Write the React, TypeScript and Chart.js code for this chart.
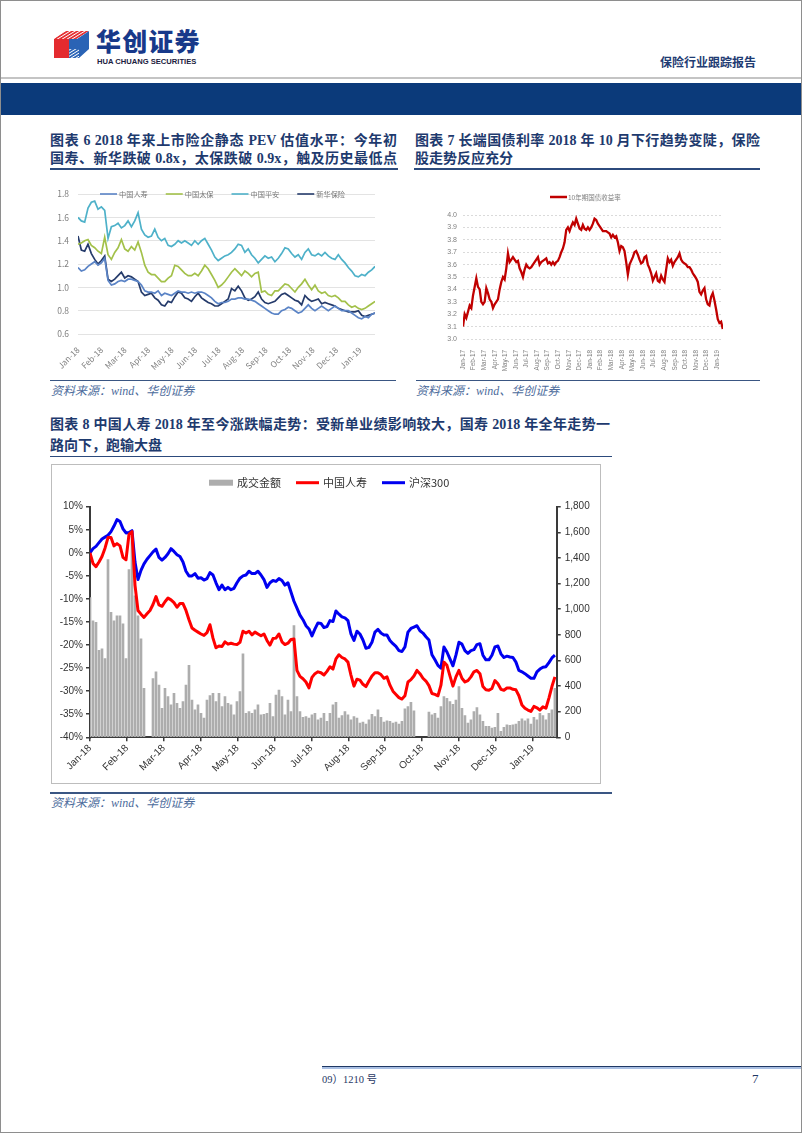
import React, { useEffect, useRef } from "react";
import { Chart, registerables } from "chart.js";

Chart.register(...registerables);

// ---------------- Chart 6: PEV valuation (2018-01 .. 2019-01) ----------------
const PEV_MONTHS = ["Jan-18", "Feb-18", "Mar-18", "Apr-18", "May-18", "Jun-18", "Jul-18", "Aug-18", "Sep-18", "Oct-18", "Nov-18", "Dec-18", "Jan-19"];
const PEV_STEP = 10 / 70.4; // months between samples
const PEV_LIFE = [
  1.17, 1.14, 1.15, 1.18, 1.20, 1.22, 1.19, 1.21, 1.25, 1.06,
  1.02, 1.03, 1.05, 1.06, 1.05, 1.07, 1.07, 1.06, 1.05, 1.02,
  0.97, 0.96, 0.96, 0.95, 0.97, 0.93, 0.95, 0.94, 0.93, 0.95,
  0.97, 0.96, 0.96, 0.95, 0.96, 0.95, 0.96, 0.96, 0.95, 0.93,
  0.91, 0.88, 0.86, 0.87, 0.87, 0.88, 0.90, 0.90, 0.91, 0.91,
  0.90, 0.90, 0.89, 0.88, 0.86, 0.84, 0.82, 0.80, 0.78, 0.77,
  0.77, 0.80, 0.81, 0.83, 0.82, 0.80, 0.78, 0.79, 0.82, 0.85,
  0.82, 0.80, 0.82, 0.84, 0.82, 0.80, 0.82, 0.84, 0.82, 0.80,
  0.80, 0.80, 0.78, 0.76, 0.74, 0.73, 0.75, 0.74, 0.77, 0.78,
];
const PEV_CPIC = [
  1.37, 1.38, 1.40, 1.41, 1.36, 1.34, 1.31, 1.29, 1.43, 1.28,
  1.24, 1.30, 1.34, 1.41, 1.33, 1.31, 1.35, 1.32, 1.39, 1.30,
  1.19, 1.13, 1.11, 1.11, 1.08, 1.05, 1.05, 1.08, 1.10, 1.19,
  1.18, 1.15, 1.12, 1.10, 1.10, 1.12, 1.10, 1.14, 1.19, 1.16,
  1.11, 1.06, 1.00, 1.02, 1.05, 1.09, 1.13, 1.16, 1.13, 1.10,
  1.14, 1.12, 1.09, 1.12, 1.13, 0.96, 0.97, 0.94, 0.93, 0.97,
  0.97, 1.00, 1.03, 1.02, 0.99, 0.96, 1.00, 1.03, 1.07, 1.02,
  0.98, 1.02, 0.97, 0.95, 0.96, 0.93, 0.92, 0.93, 0.91, 0.88,
  0.88, 0.85, 0.83, 0.84, 0.82, 0.81, 0.82, 0.84, 0.86, 0.88,
];
const PEV_PINGAN = [
  1.60, 1.57, 1.56, 1.68, 1.73, 1.74, 1.67, 1.69, 1.66, 1.42,
  1.52, 1.53, 1.55, 1.51, 1.53, 1.57, 1.52, 1.57, 1.64, 1.50,
  1.45, 1.43, 1.44, 1.50, 1.43, 1.40, 1.42, 1.36, 1.35, 1.37,
  1.40, 1.38, 1.40, 1.38, 1.36, 1.40, 1.37, 1.40, 1.42, 1.37,
  1.32, 1.26, 1.23, 1.25, 1.27, 1.28, 1.30, 1.33, 1.37, 1.36,
  1.30, 1.33, 1.28, 1.25, 1.21, 1.24, 1.27, 1.25, 1.26, 1.22,
  1.25, 1.29, 1.34, 1.33, 1.29, 1.26, 1.28, 1.24, 1.30, 1.33,
  1.28, 1.27, 1.29, 1.27, 1.30, 1.27, 1.25, 1.24, 1.28, 1.24,
  1.21, 1.17, 1.14, 1.10, 1.09, 1.11, 1.10, 1.13, 1.15, 1.18,
];
const PEV_NCI = [
  1.44, 1.32, 1.31, 1.37, 1.29, 1.24, 1.20, 1.23, 1.27, 1.07,
  1.05, 1.07, 1.10, 1.13, 1.08, 1.10, 1.09, 1.07, 1.05, 0.96,
  0.93, 0.94, 0.95, 0.91, 0.89, 0.85, 0.84, 0.88, 0.87, 0.92,
  0.96, 0.95, 0.91, 0.90, 0.88, 0.92, 0.95, 0.91, 0.89, 0.87,
  0.86, 0.84, 0.84, 0.86, 0.88, 0.90, 0.99, 0.97, 1.01, 0.97,
  0.91, 0.89, 0.90, 0.92, 0.96, 0.90, 0.87, 0.86, 0.87, 0.88,
  0.91, 0.94, 0.95, 0.93, 0.91, 0.89, 0.88, 0.85, 0.93, 0.90,
  0.88, 0.89, 0.90, 0.86, 0.87, 0.86, 0.85, 0.84, 0.82, 0.81,
  0.80, 0.79, 0.79, 0.79, 0.80, 0.76, 0.75, 0.76, 0.77, 0.78,
];

// ---------------- Chart 7: 10Y government bond yield (2017-01 .. 2019-01) ----------------
const BOND_MONTHS = [
  "Jan-17", "Feb-17", "Mar-17", "Apr-17", "May-17", "Jun-17", "Jul-17", "Aug-17", "Sep-17", "Oct-17", "Nov-17", "Dec-17",
  "Jan-18", "Feb-18", "Mar-18", "Apr-18", "May-18", "Jun-18", "Jul-18", "Aug-18", "Sep-18", "Oct-18", "Nov-18", "Dec-18", "Jan-19",
];
const BOND_STEP = 5 / 31.8;
const BOND_YIELD = [
  3.10, 3.20, 3.17, 3.22, 3.27, 3.25, 3.35, 3.42, 3.49, 3.42,
  3.40, 3.30, 3.28, 3.30, 3.41, 3.37, 3.32, 3.30, 3.25, 3.28,
  3.30, 3.32, 3.40, 3.46, 3.50, 3.48, 3.57, 3.69, 3.62, 3.64,
  3.66, 3.64, 3.62, 3.63, 3.57, 3.54, 3.50, 3.56, 3.60, 3.58,
  3.57, 3.58, 3.60, 3.62, 3.64, 3.66, 3.60, 3.62, 3.63, 3.64,
  3.65, 3.61, 3.62, 3.60, 3.62, 3.60, 3.62, 3.63, 3.66, 3.70,
  3.73, 3.78, 3.88, 3.90, 3.87, 3.91, 3.94, 3.92, 3.97, 3.93,
  3.89, 3.88, 3.92, 3.89, 3.88, 3.90, 3.88, 3.90, 3.93, 3.97,
  3.96, 3.93, 3.91, 3.89, 3.87, 3.87, 3.87, 3.86, 3.85, 3.82,
  3.84, 3.82, 3.83, 3.78, 3.71, 3.75, 3.74, 3.71, 3.62, 3.52,
  3.60, 3.63, 3.66, 3.70, 3.71, 3.68, 3.64, 3.61, 3.62, 3.66,
  3.67, 3.60, 3.57, 3.53, 3.47, 3.50, 3.53, 3.47, 3.46, 3.51,
  3.48, 3.46, 3.56, 3.65, 3.62, 3.64, 3.59, 3.62, 3.64, 3.66,
  3.69, 3.64, 3.62, 3.61, 3.60, 3.58, 3.58, 3.56, 3.53, 3.51,
  3.49, 3.46, 3.38, 3.36, 3.39, 3.41, 3.32, 3.28, 3.27, 3.34,
  3.37, 3.31, 3.24, 3.16, 3.13, 3.14, 3.08,
];

// ---------------- Chart 8: China Life vs CSI300 since 2018 ----------------
const PERF_MONTHS = PEV_MONTHS;
const PERF_STEP = 3 / 36.9;
const PERF_HS300 = [
  0, 0.9, 1.4, 2.2, 3.0, 3.4, 3.8, 4.6, 5.8, 7.2,
  6.8, 5.2, 4.3, 4.4, 4.8, -2.0, -5.8, -3.8, -2.4, -1.4,
  -0.6, 0.2, 0.8, -1.0, -1.6, -1.0, -0.2, 0.9, 0.3, -0.4,
  -0.8, -2.0, -4.0, -5.0, -5.0, -4.5, -5.5, -5.4, -5.9, -5.6,
  -4.3, -4.8, -6.5, -8.0, -7.0, -8.0, -7.5, -8.0, -7.7, -6.5,
  -5.5, -5.0, -4.8, -4.0, -4.5, -4.5, -4.0, -4.8, -5.8, -7.5,
  -6.5, -6.0, -6.2, -5.6, -6.0, -7.0, -6.5, -8.5, -10.5, -12.0,
  -13.5, -14.5, -15.8, -16.5, -18.0, -16.5, -15.2, -15.3, -16.2, -16.0,
  -14.7, -14.9, -12.6, -13.3, -13.9, -14.1, -14.7, -17.6, -19.0, -17.0,
  -17.6, -18.9, -20.7, -20.5, -19.4, -17.2, -16.6, -17.4, -17.8, -17.8,
  -19.0, -19.7, -20.3, -21.2, -21.4, -20.4, -17.2, -16.4, -16.1, -15.8,
  -16.9, -17.4, -18.2, -18.9, -22.1, -23.2, -24.4, -25.0, -20.4, -21.5,
  -23.0, -24.5, -22.2, -19.4, -19.8, -21.2, -21.8, -21.2, -21.0, -19.9,
  -19.7, -22.2, -23.2, -23.2, -22.2, -20.4, -20.2, -21.9, -22.7, -22.4,
  -22.6, -22.7, -23.7, -25.5, -25.8, -26.2, -26.7, -27.2, -27.2, -25.8,
  -25.2, -24.8, -24.7, -23.8, -22.8, -22.2,
];
const PERF_LIFE = [
  0, -2.3, -3.0, -2.0, -0.8, 1.0, 3.3, 3.3, 1.5, 2.0,
  1.5, -1.0, -1.5, 4.0, 4.6, -7.0, -12.5, -13.3, -14.0, -13.2,
  -12.5, -11.2, -9.5, -11.3, -11.6, -10.6, -9.8, -10.2, -10.8, -11.8,
  -11.0, -11.0, -12.5, -14.5, -16.3, -16.8, -17.2, -17.6, -17.9, -17.3,
  -15.6, -18.5, -20.6, -20.2, -20.3, -19.3, -19.8, -19.6, -19.8, -19.9,
  -19.4, -17.0, -17.4, -17.0, -17.8, -17.2, -17.6, -18.0, -17.6, -19.0,
  -20.0, -18.6, -18.5, -17.6, -19.3, -19.9, -19.6, -18.8, -18.7, -25.5,
  -26.8, -27.3, -28.0, -29.3, -27.0, -26.2, -25.8, -26.0, -26.5, -25.7,
  -24.7, -25.2, -23.0, -22.1, -22.7, -23.0, -23.7, -26.5, -28.9, -27.4,
  -27.6, -28.5, -29.0, -27.8, -26.7, -26.0, -26.0, -26.4, -27.2, -26.9,
  -28.7, -30.0, -30.7, -31.4, -31.7, -31.0, -28.0, -27.5, -26.7, -25.5,
  -26.2, -27.2, -27.8, -28.8, -30.5, -30.7, -31.0, -28.7, -23.7, -24.4,
  -26.7, -28.9, -26.9, -25.5, -27.2, -28.0, -27.7, -26.9, -25.8, -25.5,
  -26.2, -29.0, -29.7, -29.8, -29.4, -27.7, -28.4, -29.6, -29.8, -29.3,
  -29.3, -29.6, -29.7, -31.0, -33.0, -33.7, -34.1, -34.4, -33.3, -33.6,
  -34.1, -33.4, -33.7, -31.5, -29.0, -26.9,
];
const PERF_VOLUME: (number | null)[] = [
  1090, 910, 897, 678, 691, 614, 1387, 975, 910, 949,
  949, 885, 614, 1310, 1568, 1104, 949, 768, 382, null,
  null, 459, 511, 407, 227, 382, 317, 253, 343, 266,
  227, 279, 407, 562, 291, 214, 253, 188, 150, 291,
  325, 343, 279, 343, 240, 317, 266, 253, 175, 279,
  356, 652, 188, 201, 188, 214, 253, 175, 180, 188,
  266, 162, 330, 369, 317, 175, 291, 201, 872, 317,
  201, 155, 162, 150, 175, 188, 137, 150, 188, 124,
  188, 253, 273, 150, 170, 201, 175, 137, 162, 150,
  111, 119, 103, 137, 180, 162, 214, 155, 119, 129,
  124, 111, 119, 103, 124, 222, 240, 273, 206, null,
  null, null, null, 196, 175, 188, 150, 240, 317, 304,
  279, 258, 291, 395, 227, 170, 111, 137, 201, 232,
  175, 124, 85, 85, 72, 77, 188, 46, 77, 98,
  93, 98, 103, 124, 144, 129, 144, 103, 155, 137,
  188, 170, 137, 188, 214, 382,
];

// ---------------- helpers ----------------
const SANS = '"Liberation Sans", "Noto Sans CJK SC", sans-serif';
const CJK = '"Noto Sans CJK SC", "Liberation Sans", sans-serif';
const SERIF = '"Liberation Serif", "Noto Sans CJK SC", serif';

const toXY = (arr: (number | null)[], step: number) => arr.map((v, i) => ({ x: i * step, y: v }));

const lineLegend = {
  id: "lineLegend",
  afterDraw(chart: any, _args: any, o: any) {
    if (!o || o.x === undefined) return;
    const ctx = chart.ctx;
    ctx.save();
    ctx.font = o.font;
    ctx.textBaseline = "middle";
    let x = o.x;
    const y = o.y;
    chart.data.datasets.forEach((ds: any) => {
      const isBar = ds.type === "bar";
      if (isBar) {
        ctx.fillStyle = ds.backgroundColor;
        ctx.fillRect(x, y - o.boxH / 2, o.boxW, o.boxH);
        x += o.boxW + o.textGap;
      } else {
        ctx.strokeStyle = ds.borderColor;
        ctx.lineWidth = o.lineW;
        ctx.beginPath();
        ctx.moveTo(x, y);
        ctx.lineTo(x + o.sampleW, y);
        ctx.stroke();
        x += o.sampleW + o.textGap;
      }
      ctx.fillStyle = o.color;
      ctx.fillText(ds.label, x, y + 0.5);
      x += ctx.measureText(ds.label).width + o.itemGap;
    });
    ctx.restore();
  },
};

function monthTicks(labels: string[]) {
  return (scale: any) => {
    scale.ticks = labels.map((_, i) => ({ value: i }));
  };
}

function ChartCanvas({ left, top, width, height, makeConfig }: any) {
  const ref = useRef<HTMLCanvasElement>(null);
  useEffect(() => {
    const chart = new Chart(ref.current as HTMLCanvasElement, makeConfig());
    return () => chart.destroy();
  }, []);
  return (
    <canvas
      ref={ref}
      width={width}
      height={height}
      style={{ position: "absolute", left, top, width, height }}
    />
  );
}

function pevConfig(): any {
  const mk = (label: string, data: number[], color: string) => ({
    label,
    data: toXY(data, PEV_STEP),
    borderColor: color,
    backgroundColor: color,
    borderWidth: 1.7,
    pointRadius: 0,
    tension: 0,
  });
  return {
    type: "line",
    data: {
      datasets: [
        mk("中国人寿", PEV_LIFE, "#5b84c6"),
        mk("中国太保", PEV_CPIC, "#a3c14a"),
        mk("中国平安", PEV_PINGAN, "#4eb1c9"),
        mk("新华保险", PEV_NCI, "#253b6b"),
      ],
    },
    options: {
      responsive: false,
      animation: false,
      events: [],
      layout: { padding: { top: 10, right: 25, left: 0, bottom: 0 } },
      plugins: {
        legend: { display: false },
        tooltip: { enabled: false },
        lineLegend: {
          x: 50, y: 14, font: `7.2px ${CJK}`, color: "#777777",
          sampleW: 17, lineW: 1.6, textGap: 2, itemGap: 18, boxW: 0, boxH: 0,
        },
      },
      scales: {
        x: {
          type: "linear",
          min: 0,
          max: 12.64,
          grid: { display: false },
          border: { display: false },
          afterBuildTicks: monthTicks(PEV_MONTHS),
          afterFit: (s: any) => { s.height = 41; },
          ticks: {
            autoSkip: false,
            minRotation: 45,
            maxRotation: 45,
            padding: 3,
            color: "#808080",
            font: { family: CJK, size: 8.3 },
            callback: (_v: any, i: number) => PEV_MONTHS[i],
          },
        },
        y: {
          min: 0.6,
          max: 1.8,
          grid: { color: "#e3e3e3", drawTicks: false },
          border: { display: false },
          afterFit: (s: any) => { s.width = 28; },
          ticks: {
            stepSize: 0.2,
            padding: 9,
            color: "#808080",
            font: { family: CJK, size: 8.5 },
            callback: (v: any) => Number(v).toFixed(1),
          },
        },
      },
    },
    plugins: [lineLegend],
  };
}

function bondConfig(): any {
  return {
    type: "line",
    data: {
      datasets: [
        {
          label: "10年期国债收益率",
          data: toXY(BOND_YIELD, BOND_STEP),
          borderColor: "#c00000",
          backgroundColor: "#c00000",
          borderWidth: 2.3,
          pointRadius: 0,
          tension: 0,
        },
      ],
    },
    options: {
      responsive: false,
      animation: false,
      events: [],
      layout: { padding: { top: 35, right: 22, left: 0, bottom: 0 } },
      plugins: {
        legend: { display: false },
        tooltip: { enabled: false },
        lineLegend: {
          x: 135, y: 17, font: `6.5px ${CJK}`, color: "#7f7f7f",
          sampleW: 17, lineW: 2.5, textGap: 1, itemGap: 10, boxW: 0, boxH: 0,
        },
      },
      scales: {
        x: {
          type: "linear",
          min: 0,
          max: 24.55,
          grid: { display: false },
          border: { display: false },
          afterBuildTicks: monthTicks(BOND_MONTHS),
          afterFit: (s: any) => { s.height = 36; },
          ticks: {
            autoSkip: false,
            minRotation: 90,
            maxRotation: 90,
            padding: 3,
            color: "#808080",
            font: { family: SANS, size: 6.4 },
            callback: (_v: any, i: number) => BOND_MONTHS[i],
          },
        },
        y: {
          min: 3.0,
          max: 4.0,
          grid: { color: "#dadada", drawTicks: false },
          border: { display: false, dash: [2, 2] },
          afterFit: (s: any) => { s.width = 48; },
          ticks: {
            stepSize: 0.1,
            padding: 6,
            color: "#808080",
            font: { family: SANS, size: 7 },
            callback: (v: any) => Number(v).toFixed(1),
          },
        },
      },
    },
    plugins: [lineLegend],
  };
}

function perfConfig(): any {
  const axisColor = "#3a3a3a";
  const tickFont = { family: SANS, size: 10 };
  return {
    type: "bar",
    data: {
      datasets: [
        {
          type: "bar",
          label: "成交金额",
          data: toXY(PERF_VOLUME, PERF_STEP),
          backgroundColor: "#adadad",
          barThickness: 2,
          yAxisID: "y1",
          order: 3,
        },
        {
          type: "line",
          label: "中国人寿",
          data: toXY(PERF_LIFE, PERF_STEP),
          borderColor: "#ff0000",
          backgroundColor: "#ff0000",
          borderWidth: 3,
          pointRadius: 0,
          tension: 0,
          borderJoinStyle: "round",
          yAxisID: "y",
          order: 1,
        },
        {
          type: "line",
          label: "沪深300",
          data: toXY(PERF_HS300, PERF_STEP),
          borderColor: "#0000f0",
          backgroundColor: "#0000f0",
          borderWidth: 3,
          pointRadius: 0,
          tension: 0,
          borderJoinStyle: "round",
          yAxisID: "y",
          order: 2,
        },
      ],
    },
    options: {
      responsive: false,
      animation: false,
      events: [],
      layout: { padding: { top: 41.7, right: 0, left: 0, bottom: 0 } },
      plugins: {
        legend: { display: false },
        tooltip: { enabled: false },
        lineLegend: {
          x: 157, y: 17.7, font: `11px ${CJK}`, color: "#333333",
          sampleW: 23, lineW: 3, textGap: 4, itemGap: 15, boxW: 24, boxH: 6,
        },
      },
      scales: {
        x: {
          type: "linear",
          min: 0,
          max: 12.65,
          offset: false,
          grid: { display: true, drawOnChartArea: false, offset: false, color: axisColor, tickLength: 4, lineWidth: 1.5 },
          border: { display: true, color: axisColor, width: 2 },
          afterBuildTicks: monthTicks(PERF_MONTHS),
          afterFit: (s: any) => { s.height = 45.7; },
          ticks: {
            autoSkip: false,
            minRotation: 45,
            maxRotation: 45,
            padding: 1,
            color: "#333333",
            font: tickFont,
            callback: (_v: any, i: number) => PERF_MONTHS[i],
          },
        },
        y: {
          position: "left",
          min: -40,
          max: 10,
          grid: { display: true, drawOnChartArea: false, color: axisColor, tickLength: 4, lineWidth: 1.5 },
          border: { display: true, color: axisColor, width: 2 },
          afterFit: (s: any) => { s.width = 38; },
          ticks: {
            stepSize: 5,
            padding: 3,
            color: "#333333",
            font: tickFont,
            callback: (v: any) => `${v}%`,
          },
        },
        y1: {
          position: "right",
          min: 0,
          max: 1800,
          grid: { display: true, drawOnChartArea: false, color: axisColor, tickLength: 4, lineWidth: 1.5 },
          border: { display: true, color: axisColor, width: 2 },
          afterFit: (s: any) => { s.width = 43.3; },
          ticks: {
            stepSize: 200,
            padding: 4,
            color: "#333333",
            font: tickFont,
            callback: (v: any) => Number(v).toLocaleString("en-US"),
          },
        },
      },
    },
    plugins: [lineLegend],
  };
}

// ---------------- page ----------------
const TITLE_COLOR = "#1e3a6e";
const abs = (left: number, top: number, extra: any = {}) => ({ position: "absolute" as const, left, top, ...extra });

function TitleBlock({ left, top, width, lines, lineHeight }: any) {
  return (
    <div style={abs(left, top, { width, fontFamily: SERIF, fontWeight: 700, fontSize: 14, lineHeight: `${lineHeight}px`, color: TITLE_COLOR })}>
      {lines.map((l: any, i: number) => (
        <div key={i} style={{ textAlign: l.justify ? "justify" : "left", textAlignLast: l.justify ? "justify" : "left", whiteSpace: "normal" } as any}>
          {l.text}
        </div>
      ))}
    </div>
  );
}

function Source({ left, top }: any) {
  return (
    <div style={abs(left, top, { fontFamily: SERIF, fontStyle: "italic", fontSize: 12, lineHeight: "15px", color: "#4d6c9c", whiteSpace: "nowrap" })}>
      资料来源：wind、华创证券
    </div>
  );
}

function Logo() {
  return (
    <svg width="37" height="30" viewBox="0 0 37 30" style={abs(53, 29)}>
      <defs>
        <pattern id="stripeR" width="2.6" height="2.6" patternUnits="userSpaceOnUse" patternTransform="rotate(-32)">
          <rect width="2.6" height="2.6" fill="#e42b2f" />
          <rect width="2.6" height="0.9" fill="#ffffff" />
        </pattern>
        <pattern id="stripeB" width="2.6" height="2.6" patternUnits="userSpaceOnUse" patternTransform="rotate(-32)">
          <rect width="2.6" height="2.6" fill="#2a63b5" />
          <rect width="2.6" height="0.9" fill="#ffffff" />
        </pattern>
      </defs>
      <polygon points="1,10 12,2 36,2 24,10" fill="url(#stripeR)" />
      <polygon points="1,10 16,10 16,29 1,29" fill="#e42b2f" />
      <polygon points="16,10 24,10 36,2 36,20 26,29 16,29" fill="#2a63b5" />
      <polygon points="16,20 26,20 26,29 16,29" fill="url(#stripeB)" />
    </svg>
  );
}

export default function App() {
  return (
    <div style={abs(0, 0, { width: 802, height: 1133, background: "#ffffff", overflow: "hidden" })}>
      {/* header */}
      <Logo />
      <div style={abs(96, 28, { fontFamily: CJK, fontWeight: 900, fontSize: 25, lineHeight: "25px", letterSpacing: 1.2, color: "#17398a", whiteSpace: "nowrap" })}>
        华创证券
      </div>
      <div style={abs(97, 57, { fontFamily: SANS, fontWeight: 700, fontSize: 7.6, lineHeight: "9px", color: "#1b2140", whiteSpace: "nowrap" })}>
        HUA CHUANG SECURITIES
      </div>
      <div style={abs(660, 56, { fontFamily: SERIF, fontWeight: 700, fontSize: 12, lineHeight: "14px", color: "#1f3c73", whiteSpace: "nowrap" })}>
        保险行业跟踪报告
      </div>
      <div style={abs(0, 77, { width: 802, height: 2, background: "#c4c4c4" })} />
      <div style={abs(0, 83, { width: 802, height: 32, background: "#0b3a7a" })} />

      {/* titles of charts 6 & 7 */}
      <TitleBlock
        left={50}
        top={132}
        width={347}
        lineHeight={18}
        lines={[
          { text: "图表 6 2018 年来上市险企静态 PEV 估值水平：今年初", justify: true },
          { text: "国寿、新华跌破 0.8x，太保跌破 0.9x，触及历史最低点", justify: true },
        ]}
      />
      <TitleBlock
        left={415}
        top={132}
        width={345}
        lineHeight={18}
        lines={[
          { text: "图表 7 长端国债利率 2018 年 10 月下行趋势变陡，保险", justify: true },
          { text: "股走势反应充分", justify: false },
        ]}
      />
      <div style={abs(50, 168, { width: 348, height: 1.5, background: "#2c4a7c" })} />
      <div style={abs(414, 168, { width: 346, height: 1.5, background: "#2c4a7c" })} />

      <ChartCanvas left={50} top={180} width={350} height={195} makeConfig={pevConfig} />
      <ChartCanvas left={415} top={180} width={330} height={195} makeConfig={bondConfig} />

      <div style={abs(50, 379.5, { width: 346, height: 1.5, background: "#3a5683" })} />
      <div style={abs(416, 379.5, { width: 344, height: 1.5, background: "#3a5683" })} />
      <Source left={51} top={384} />
      <Source left={416} top={384} />

      {/* chart 8 */}
      <TitleBlock
        left={50}
        top={415}
        width={560}
        lineHeight={20.5}
        lines={[
          { text: "图表 8 中国人寿 2018 年至今涨跌幅走势：受新单业绩影响较大，国寿 2018 年全年走势一", justify: true },
          { text: "路向下，跑输大盘", justify: false },
        ]}
      />
      <div style={abs(50, 455.5, { width: 562, height: 1.5, background: "#2c4a7c" })} />
      <div style={abs(51, 464, { width: 550, height: 320, border: "1px solid #bdbdbd", boxSizing: "border-box" })} />
      <ChartCanvas left={52} top={465} width={548} height={318} makeConfig={perfConfig} />
      <div style={abs(50, 792, { width: 562, height: 1.5, background: "#3a5683" })} />
      <Source left={51} top={796} />

      {/* footer */}
      <div style={abs(322, 1065.5, { width: 480, height: 1.6, background: "#1f3864" })} />
      <div style={abs(322, 1067.1, { width: 480, height: 1.6, background: "#a9bfe3" })} />
      <div style={abs(322, 1073, { fontFamily: SERIF, fontSize: 10.5, lineHeight: "13px", color: "#1f3864", whiteSpace: "nowrap" })}>
        09）1210 号
      </div>
      <div style={abs(752, 1071, { fontFamily: SERIF, fontSize: 13, lineHeight: "16px", color: "#1f3864" })}>7</div>

      {/* page frame */}
      <div style={abs(0, 0, { width: 802, height: 1133, border: "1px solid #8e8e8e", boxSizing: "border-box", pointerEvents: "none" })} />
    </div>
  );
}
